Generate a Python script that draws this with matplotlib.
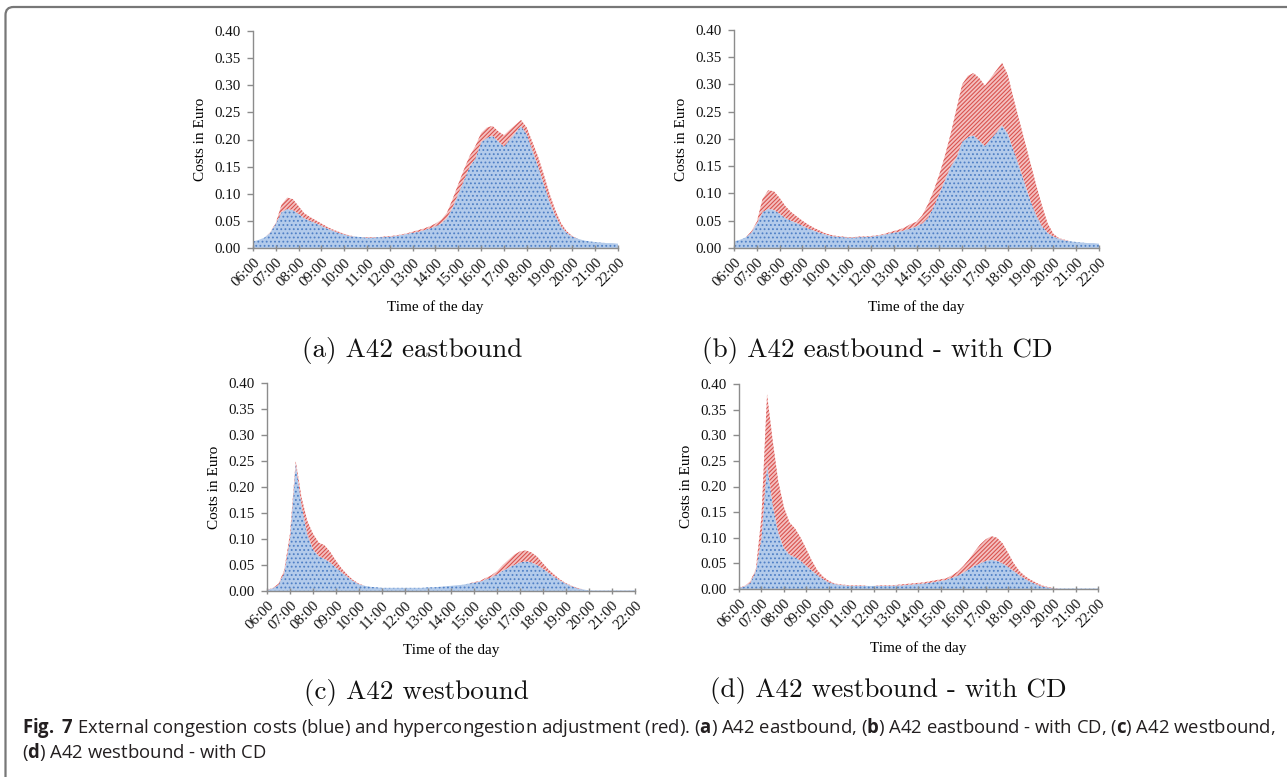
import numpy as np
import matplotlib
matplotlib.use('Agg')
import matplotlib.pyplot as plt
from matplotlib.patches import FancyBboxPatch

plt.rcParams['font.family'] = ['Liberation Serif', 'DejaVu Serif']
plt.rcParams['mathtext.fontset'] = 'custom'
plt.rcParams['mathtext.rm'] = 'Open Sans'
plt.rcParams['mathtext.bf'] = 'Open Sans:bold'
plt.rcParams['hatch.linewidth'] = 0.8

# time of day, 15 minute steps from 06:00 to 22:00
hours = np.arange(6, 22.01, 0.25)
tick_hours = np.arange(6, 23, 1)
tick_labels = [f'{h:02d}:00' for h in range(6, 23)]

# eastbound, external congestion costs (blue)
blue_east = [0.012, 0.015, 0.019, 0.028, 0.045, 0.066, 0.072, 0.070, 0.063, 0.055,
             0.050, 0.046, 0.041, 0.036, 0.032, 0.028, 0.025, 0.022, 0.021, 0.020,
             0.019, 0.019, 0.020, 0.020, 0.021, 0.022, 0.024, 0.026, 0.028, 0.030,
             0.033, 0.036, 0.040, 0.045, 0.055, 0.075, 0.100, 0.125, 0.150, 0.165,
             0.195, 0.203, 0.207, 0.197, 0.187, 0.200, 0.212, 0.225, 0.210, 0.180,
             0.150, 0.118, 0.086, 0.060, 0.040, 0.028, 0.021, 0.017, 0.014, 0.012,
             0.011, 0.010, 0.009, 0.009, 0.008]
# eastbound, incl. hypercongestion adjustment (red)
red_east = [0.012, 0.015, 0.019, 0.029, 0.046, 0.080, 0.093, 0.090, 0.077, 0.064,
            0.057, 0.051, 0.045, 0.039, 0.034, 0.030, 0.026, 0.023, 0.021, 0.020,
            0.020, 0.020, 0.020, 0.021, 0.022, 0.023, 0.025, 0.027, 0.030, 0.033,
            0.036, 0.040, 0.045, 0.052, 0.065, 0.090, 0.118, 0.145, 0.170, 0.188,
            0.212, 0.222, 0.225, 0.215, 0.208, 0.218, 0.227, 0.236, 0.222, 0.195,
            0.168, 0.135, 0.100, 0.070, 0.046, 0.031, 0.022, 0.017, 0.014, 0.012,
            0.011, 0.010, 0.009, 0.009, 0.008]
red_east_cd = [0.012, 0.015, 0.019, 0.030, 0.048, 0.090, 0.106, 0.104, 0.092, 0.077,
               0.066, 0.058, 0.050, 0.043, 0.037, 0.032, 0.027, 0.024, 0.022, 0.021,
               0.020, 0.020, 0.021, 0.021, 0.022, 0.023, 0.025, 0.028, 0.031, 0.034,
               0.038, 0.044, 0.048, 0.060, 0.080, 0.105, 0.135, 0.170, 0.210, 0.255,
               0.300, 0.316, 0.321, 0.312, 0.298, 0.312, 0.326, 0.340, 0.318, 0.275,
               0.235, 0.195, 0.155, 0.115, 0.078, 0.045, 0.026, 0.018, 0.015, 0.012,
               0.011, 0.010, 0.009, 0.009, 0.008]

# westbound
blue_west = [0.002, 0.005, 0.012, 0.035, 0.100, 0.245, 0.165, 0.110, 0.080, 0.067,
             0.062, 0.055, 0.045, 0.036, 0.027, 0.019, 0.013, 0.010, 0.008, 0.007,
             0.006, 0.006, 0.006, 0.006, 0.006, 0.006, 0.006, 0.006, 0.007, 0.007,
             0.008, 0.009, 0.010, 0.011, 0.012, 0.014, 0.016, 0.018, 0.022, 0.026,
             0.032, 0.039, 0.045, 0.050, 0.055, 0.057, 0.055, 0.050, 0.043, 0.035,
             0.027, 0.020, 0.014, 0.009, 0.005, 0.003, 0.001, 0.001, 0.001, 0.001,
             0.001, 0.001, 0.001, 0.001, 0.001]
red_west = [0.002, 0.006, 0.014, 0.040, 0.110, 0.250, 0.180, 0.135, 0.110, 0.093,
            0.088, 0.075, 0.058, 0.043, 0.031, 0.021, 0.014, 0.010, 0.008, 0.007,
            0.006, 0.006, 0.006, 0.006, 0.006, 0.006, 0.006, 0.006, 0.007, 0.007,
            0.008, 0.009, 0.010, 0.011, 0.012, 0.014, 0.017, 0.019, 0.025, 0.030,
            0.038, 0.050, 0.060, 0.070, 0.076, 0.078, 0.074, 0.066, 0.053, 0.041,
            0.031, 0.022, 0.015, 0.010, 0.006, 0.003, 0.001, 0.001, 0.001, 0.001,
            0.001, 0.001, 0.001, 0.001, 0.001]
red_west_cd = [0.002, 0.006, 0.015, 0.038, 0.140, 0.380, 0.290, 0.210, 0.160, 0.130,
               0.118, 0.100, 0.078, 0.055, 0.036, 0.024, 0.016, 0.011, 0.009, 0.008,
               0.007, 0.007, 0.007, 0.006, 0.006, 0.007, 0.007, 0.007, 0.008, 0.009,
               0.010, 0.011, 0.012, 0.013, 0.015, 0.017, 0.019, 0.021, 0.027, 0.034,
               0.045, 0.058, 0.073, 0.087, 0.097, 0.103, 0.100, 0.089, 0.070, 0.050,
               0.035, 0.025, 0.018, 0.012, 0.007, 0.004, 0.002, 0.001, 0.001, 0.001,
               0.001, 0.001, 0.001, 0.001, 0.001]

subcaptions = ['(a) A42 eastbound', '(b) A42 eastbound - with CD',
               '(c) A42 westbound', '(d) A42 westbound - with CD']

W, H = 1287, 777
fig = plt.figure(figsize=(W / 100, H / 100), dpi=100)

def px_box(x0, y0, x1, y1):
    # pixel box (top-left origin) -> figure fraction rect
    return [x0 / W, 1 - y1 / H, (x1 - x0) / W, (y1 - y0) / H]

panels = [
    (px_box(253, 31, 618, 248), blue_east, red_east, (412, 350)),
    (px_box(734, 30, 1099, 248), blue_east, red_east_cd, (877, 350)),
    (px_box(267, 383, 635, 591), blue_west, red_west, (416, 693)),
    (px_box(739, 384, 1098, 589), blue_west, red_west_cd, (888, 691)),
]

gray = '#8c8c8c'
for (rect, blue, red, cap_pos), cap in zip(panels, subcaptions):
    ax = fig.add_axes(rect)
    ax.fill_between(hours, 0, blue, facecolor='#b3cbeb', edgecolor='#4f80c6',
                    hatch='....', linewidth=0)
    ax.fill_between(hours, blue, red, facecolor='#f4c0c0', edgecolor='#d9534f',
                    hatch='////////', linewidth=0)
    ax.set_xlim(6, 22)
    ax.set_ylim(0, 0.40)
    ax.set_yticks(np.arange(0, 0.41, 0.05))
    ax.set_yticklabels([f'{v:.2f}' for v in np.arange(0, 0.41, 0.05)])
    ax.set_xticks(tick_hours)
    ax.set_xticklabels(tick_labels, rotation=45, ha='right', va='top',
                       rotation_mode='anchor')
    for s in ['top', 'right']:
        ax.spines[s].set_visible(False)
    for s in ['left', 'bottom']:
        ax.spines[s].set_color(gray)
        ax.spines[s].set_linewidth(1.0)
    ax.tick_params(axis='y', colors=gray, labelcolor='#111111', length=4,
                   width=1, labelsize=10.8, pad=5)
    ax.tick_params(axis='x', colors=gray, labelcolor='#111111', length=5,
                   width=1, labelsize=10.8, direction='inout', pad=3)
    ax.set_ylabel('Costs in Euro', fontsize=11, labelpad=5)
    ax.set_xlabel('Time of the day', fontsize=11, labelpad=8)
    fig.text(cap_pos[0] / W, 1 - cap_pos[1] / H, cap, family='cmr10',
             fontsize=19.5, ha='center', va='center', color='#111111')

# figure caption, sized to span the same width as the original line
line1 = (r'$\mathbf{Fig.}$ $\mathbf{7}$ External congestion costs (blue) and hypercongestion '
         r'adjustment (red). ($\mathbf{a}$) A42 eastbound, ($\mathbf{b}$) A42 eastbound'
         r' - with CD, ($\mathbf{c}$) A42 westbound,')
line2 = r'($\mathbf{d}$) A42 westbound - with CD'
t1 = fig.text(22 / W, 1 - 728 / H, line1, family='Open Sans', fontsize=12,
              va='center', color='#231f20')
t2 = fig.text(22 / W, 1 - 752 / H, line2, family='Open Sans', fontsize=12,
              va='center', color='#231f20')
renderer = fig.canvas.get_renderer()
width = t1.get_window_extent(renderer).width
fs = 12 * (1275 - 22) / width
t1.set_fontsize(fs)
t2.set_fontsize(fs)

# rounded frame on top / left
frame = FancyBboxPatch((0.055, -1.0), 20, 8.70, boxstyle='round,pad=0,rounding_size=0.08',
                       transform=fig.dpi_scale_trans, facecolor='none',
                       edgecolor='#777777', linewidth=1.6)
fig.patches.append(frame)

fig.savefig('out.png', dpi=100)
